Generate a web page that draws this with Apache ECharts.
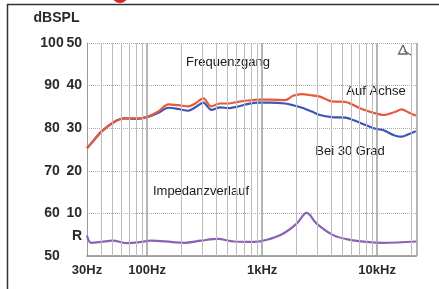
<!DOCTYPE html>
<html>
<head>
<meta charset="utf-8">
<script src="https://cdn.jsdelivr.net/npm/echarts@6/dist/echarts.min.js"></script>
<style>
  html, body { margin: 0; padding: 0; background: #fff; }
  #chart { width: 439px; height: 289px; }
</style>
</head>
<body>
<div id="chart"></div>
<script>
// frequency response (dB SPL) and impedance (Ohm)
var freqHz = [30, 34, 40, 52, 63, 82, 100, 123, 153, 187, 228, 262, 308, 361, 432, 507, 619, 756, 923,
  1173, 1582, 1858, 2222, 2712, 3180, 4040, 5250, 7070, 9340, 11400, 14200, 16350, 18800, 21700];
var onAxisDb = [75.3, 77.0, 79.2, 81.5, 82.3, 82.3, 82.7, 83.8, 85.6, 85.4, 85.1, 85.8, 87.0, 85.1, 85.8, 85.8, 86.2, 86.5, 86.7,
  86.7, 86.6, 87.6, 88.0, 87.7, 87.4, 86.3, 86.2, 84.7, 83.6, 83.1, 83.8, 84.4, 83.7, 82.9];
var at30Db = [75.3, 77.0, 79.2, 81.5, 82.3, 82.2, 82.6, 83.5, 84.8, 84.5, 84.1, 84.9, 86.0, 84.3, 84.9, 84.7, 85.1, 85.7, 86.0,
  86.0, 85.8, 85.4, 84.8, 83.9, 83.1, 82.6, 82.5, 81.3, 80.0, 79.5, 78.3, 78.0, 78.6, 79.3];

var impFreqHz = [30, 32.5, 40, 50, 68, 89, 108, 162, 211, 294, 410, 571, 853, 1100, 1530, 2000, 2440, 2980, 4150, 5800, 8100, 11300, 22000];
var impOhm = [4.8, 3.1, 3.3, 3.6, 3.0, 3.3, 3.6, 3.3, 3.1, 3.6, 4.0, 3.4, 3.3, 3.8, 5.3, 7.6, 10.1, 7.6, 4.9, 3.8, 3.3, 3.1, 3.4];

var dbTicks = [50, 60, 70, 80, 90, 100];
var ohmTicks = [0, 10, 20, 30, 40, 50];
var gridFreqs = [40, 50, 60, 70, 80, 90, 100, 200, 300, 400, 500, 600, 700, 800, 900, 1000,
  2000, 3000, 4000, 5000, 6000, 7000, 8000, 9000, 10000, 20000, 22000];
var decades = [100, 1000, 10000, 22000];

function zip(xs, ys) {
  return xs.map(function (x, i) { return [x, ys[i]]; });
}

var chart = echarts.init(document.getElementById('chart'), null, { renderer: 'canvas' });

var labelFont = { fontFamily: 'Liberation Sans, Arial, sans-serif', fontSize: 14, fontWeight: 'bold', color: '#2a2a2a' };
var noteFont = { fontFamily: 'Liberation Sans, Arial, sans-serif', fontSize: 13, fill: '#1a1a1a' };

var option = {
  backgroundColor: '#fff',
  animation: false,
  grid: { left: 87, right: 22.5, top: 43, bottom: 33 },
  xAxis: {
    type: 'log',
    logBase: 10,
    min: 30,
    max: 22000,
    axisLine: { show: true, lineStyle: { color: '#8a8a8a', width: 1.5 } },
    axisTick: { show: false },
    splitLine: { show: false },
    axisLabel: {
      margin: 8,
      fontFamily: 'Liberation Sans, Arial, sans-serif',
      fontSize: 13,
      fontWeight: 'bold',
      color: '#2a2a2a',
      formatter: function (v) {
        if (v < 50) return '30Hz';
        if (v > 15000) return '';
        if (v >= 1000) return Math.round(v / 1000) + 'kHz';
        return Math.round(v) + 'Hz';
      }
    }
  },
  yAxis: [{
    type: 'value',
    min: dbTicks[0],
    max: dbTicks[dbTicks.length - 1],
    interval: 10,
    axisLine: { show: true, lineStyle: { color: '#9a9a9a' } },
    axisTick: { show: false },
    splitLine: { show: true, lineStyle: { color: '#a8a8a8', type: 'dotted', width: 1 } },
    axisLabel: Object.assign({ margin: 35, align: 'center' }, labelFont)
  }, {
    type: 'value',
    position: 'left',
    min: ohmTicks[0],
    max: ohmTicks[ohmTicks.length - 1],
    interval: 10,
    axisLine: { show: false },
    axisTick: { show: false },
    splitLine: { show: false },
    axisLabel: Object.assign({
      margin: 5, align: 'right',
      formatter: function (v) { return v === 0 ? '' : v; }
    }, labelFont)
  }],
  series: [{
    name: 'grid',
    type: 'line',
    z: 1,
    silent: true,
    data: [[30, 50]],
    showSymbol: false,
    lineStyle: { opacity: 0 },
    markLine: {
      silent: true,
      symbol: 'none',
      animation: false,
      label: { show: false },
      data: gridFreqs.map(function (f) {
        var major = decades.indexOf(f) >= 0;
        return {
          xAxis: f,
          lineStyle: { color: major ? '#9c9c9c' : '#bdbdbd', width: major ? 1.5 : 1, type: 'solid' }
        };
      })
    }
  }, {
    name: 'Bei 30 Grad',
    type: 'line',
    z: 3,
    data: zip(freqHz, at30Db),
    smooth: 0.3,
    showSymbol: false,
    lineStyle: { color: '#3d56b5', width: 2.2 }
  }, {
    name: 'Auf Achse',
    type: 'line',
    z: 4,
    data: zip(freqHz, onAxisDb),
    smooth: 0.3,
    showSymbol: false,
    lineStyle: { color: '#e8583a', width: 2.2 }
  }, {
    name: 'Impedanzverlauf',
    type: 'line',
    z: 3,
    yAxisIndex: 1,
    data: zip(impFreqHz, impOhm),
    smooth: 0.35,
    showSymbol: false,
    lineStyle: { color: '#8a62b5', width: 2.2 }
  }],
  graphic: [
    { type: 'line', shape: { x1: 7, y1: 4.5, x2: 439, y2: 4.5 }, style: { stroke: '#333', lineWidth: 1.5 } },
    { type: 'line', shape: { x1: 7.5, y1: 4, x2: 7.5, y2: 289 }, style: { stroke: '#333', lineWidth: 1.5 } },
    { type: 'circle', shape: { cx: 120, cy: -5, r: 8 }, style: { fill: '#d8261e' } },
    { type: 'text', x: 56.5, y: 18, style: Object.assign({ text: 'dBSPL', align: 'center', verticalAlign: 'middle', fill: '#2a2a2a',
        font: 'bold 14px "Liberation Sans", Arial, sans-serif' }) },
    { type: 'text', x: 82, y: 236, style: { text: 'R', align: 'right', verticalAlign: 'middle', fill: '#2a2a2a',
        font: 'bold 14px "Liberation Sans", Arial, sans-serif' } },
    { type: 'text', x: 228, y: 62, style: { text: 'Frequenzgang', align: 'center', verticalAlign: 'middle', fill: noteFont.fill,
        font: '13px "Liberation Sans", Arial, sans-serif' } },
    { type: 'text', x: 376, y: 91, style: { text: 'Auf Achse', align: 'center', verticalAlign: 'middle', fill: noteFont.fill,
        font: '13px "Liberation Sans", Arial, sans-serif' } },
    { type: 'text', x: 350, y: 151, style: { text: 'Bei 30 Grad', align: 'center', verticalAlign: 'middle', fill: noteFont.fill,
        font: '13px "Liberation Sans", Arial, sans-serif' } },
    { type: 'text', x: 201, y: 191, style: { text: 'Impedanzverlauf', align: 'center', verticalAlign: 'middle', fill: noteFont.fill,
        font: '13px "Liberation Sans", Arial, sans-serif' } },
    // small ruler/triangle mark, top right
    { type: 'polyline', shape: { points: [[403, 45], [398.5, 54], [407, 54], [403, 45]] }, style: { stroke: '#666', lineWidth: 1.3, fill: null } },
    { type: 'line', shape: { x1: 404, y1: 51, x2: 412, y2: 55.5 }, style: { stroke: '#666', lineWidth: 1.3 } }
  ]
};

chart.setOption(option);
</script>
</body>
</html>
